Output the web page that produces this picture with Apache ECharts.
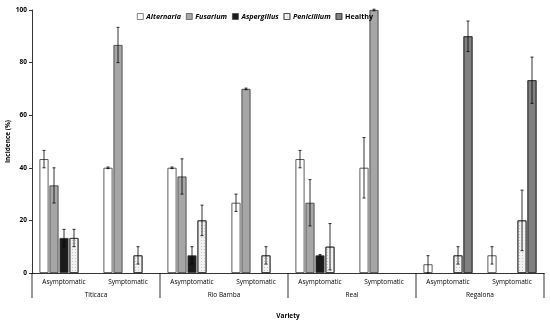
<!DOCTYPE html>
<html><head><meta charset="utf-8">
<script src="https://cdn.jsdelivr.net/npm/echarts@6/dist/echarts.min.js"></script>
<style>html,body{margin:0;padding:0;background:#fff}#c{width:550px;height:326px}</style>
</head><body><div id="c"></div>
<script>
var subCategories = ['Asymptomatic','Symptomatic','Asymptomatic','Symptomatic','Asymptomatic','Symptomatic','Asymptomatic','Symptomatic'];
var varieties = ['Titicaca','Rio Bamba','Real','Regalona'];
var seriesNames = ['Alternaria','Fusarium','Aspergillus','Penicillium','Healthy'];
var alternaria = [43.3, 40, 40, 26.7, 43.3, 40, 3.3, 6.7];
var alternariaErr = [3.3, 0.3, 0.3, 3.3, 3.3, 11.5, 3.3, 3.3];
var fusarium = [33.3, 86.7, 36.7, 70, 26.7, 100, 0, 0];
var fusariumErr = [6.7, 6.7, 6.7, 0.3, 8.8, 0.3, 0, 0];
var aspergillus = [13.3, 0, 6.7, 0, 6.7, 0, 0, 0];
var aspergillusErr = [3.3, 0, 3.3, 0, 0.3, 0, 0, 0];
var penicillium = [13.3, 6.7, 20, 6.7, 10, 0, 6.7, 20];
var penicilliumErr = [3.3, 3.3, 5.8, 3.3, 8.8, 0, 3.3, 11.5];
var healthy = [0, 0, 0, 0, 0, 0, 90, 73.3];
var healthyErr = [0, 0, 0, 0, 0, 0, 5.8, 8.8];
var yTicks = [0, 20, 40, 60, 80, 100];

var values = [alternaria, fusarium, aspergillus, penicillium, healthy];
var errors = [alternariaErr, fusariumErr, aspergillusErr, penicilliumErr, healthyErr];
var colors = ['#ffffff', '#a6a6a6', '#1a1a1a', '#f2f2f2', '#808080'];
var decals = [null, null, null,
  {symbol:'rect', symbolSize:1, dashArrayX:[[1,2]], dashArrayY:[1,2], color:'rgba(170,170,170,0.6)', rotation:0},
  {symbol:'rect', symbolSize:1, dashArrayX:[[1,3]], dashArrayY:[0], color:'rgba(100,100,100,0.35)', rotation:0}];
var FONT = 'Open Sans';
var chart = echarts.init(document.getElementById('c'), null, {renderer:'canvas'});
var series = [];
var pitch = 10;
values.forEach(function(v, i){
  var item = {type:'bar', name:seriesNames[i], barWidth:9, barGap:'11.1%',
    data: v.map(function(x){ return x === 0 ? '-' : x; }),
    itemStyle:{color:colors[i], borderColor:'#333', borderWidth:0.8}};
  if (decals[i]) item.itemStyle.decal = decals[i];
  series.push(item);
});
values.forEach(function(v, i){
  series.push({type:'custom', name:seriesNames[i] + ' err', silent:true, z:10,
    data: v.map(function(x, k){ return [k, x, errors[i][k]]; }),
    renderItem:function(params, api){
      var k = api.value(0), val = api.value(1), e = api.value(2);
      if (!val || !e) return null;
      var c = api.coord([k, val]);
      var x = c[0] + (i - 2) * pitch;
      var top = api.coord([k, val + e])[1];
      var bot = api.coord([k, Math.max(val - e, 0)])[1];
      var st = {stroke:'#000', lineWidth:0.8};
      return {type:'group', children:[
        {type:'line', shape:{x1:x, y1:top, x2:x, y2:bot}, style:st},
        {type:'line', shape:{x1:x-1.5, y1:top, x2:x+1.5, y2:top}, style:st},
        {type:'line', shape:{x1:x-1.5, y1:bot, x2:x+1.5, y2:bot}, style:st}
      ]};
    }
  });
});
series.push({type:'custom', name:'varieties', silent:true, clip:false, z:10,
  data: varieties.map(function(v, j){ return [2*j, 2*j+1, j]; }),
  renderItem:function(params, api){
    var a = api.value(0), b = api.value(1), j = api.value(2);
    var band = api.size([1, 0])[0];
    var y0 = api.coord([a, 0])[1];
    var x0 = api.coord([a, 0])[0] - band/2;
    var x1 = api.coord([b, 0])[0] + band/2;
    var kids = [
      {type:'rect', shape:{x:x0-0.4, y:y0, width:0.8, height:25}, style:{fill:'#000'}},
      {type:'text', x:(x0+x1)/2, y:y0+22, style:{text:varieties[j], fill:'#000', font:'6.5px "Open Sans"', align:'center', verticalAlign:'middle'}}
    ];
    if (j === varieties.length - 1) kids.push({type:'rect', shape:{x:x1-0.4, y:y0, width:0.8, height:25}, style:{fill:'#000'}});
    return {type:'group', children:kids};
  }
});
chart.setOption({
  animation:false,
  textStyle:{fontFamily:FONT},
  grid:{left:32, right:6, top:10, bottom:53, outerBoundsMode:'none', containLabel:false},
  legend:{
    left:132, top:8, itemWidth:6, itemHeight:6, itemGap:5, icon:'rect',
    data: seriesNames.map(function(n, i){ return {name:n, textStyle:{fontStyle: i < 4 ? 'italic' : 'normal'}}; }),
    textStyle:{fontFamily:FONT, fontSize:7.2, fontWeight:'bold', color:'#000', padding:[0,0,0,-2]},
    itemStyle:{borderColor:'#333', borderWidth:0.6}
  },
  xAxis:{type:'category', data:subCategories, position:'bottom',
     axisLine:{lineStyle:{color:'#000', width:0.8}},
     axisTick:{interval:0, length:14, lineStyle:{color:'#000', width:0.8}},
     axisLabel:{interval:0, fontSize:6.5, color:'#000', margin:6, fontFamily:FONT},
     name:'Variety', nameLocation:'middle', nameGap:40, nameMoveOverlap:false,
     nameTextStyle:{fontSize:6.5, fontWeight:'bold', color:'#000', fontFamily:FONT}},
  yAxis:{type:'value', min:yTicks[0], max:yTicks[yTicks.length-1], interval:20,
    axisLine:{show:true, lineStyle:{color:'#000', width:0.8}},
    axisTick:{show:true, length:3, lineStyle:{color:'#000', width:0.8}},
    splitLine:{show:false},
    axisLabel:{fontSize:6.5, fontWeight:'bold', color:'#000', margin:5, fontFamily:FONT},
    name:'Incidence (%)', nameLocation:'middle', nameGap:20, nameRotate:90, nameMoveOverlap:false,
    nameTextStyle:{fontSize:6.5, fontWeight:'bold', color:'#000', fontFamily:FONT}},
  series:series
});
</script></body></html>
